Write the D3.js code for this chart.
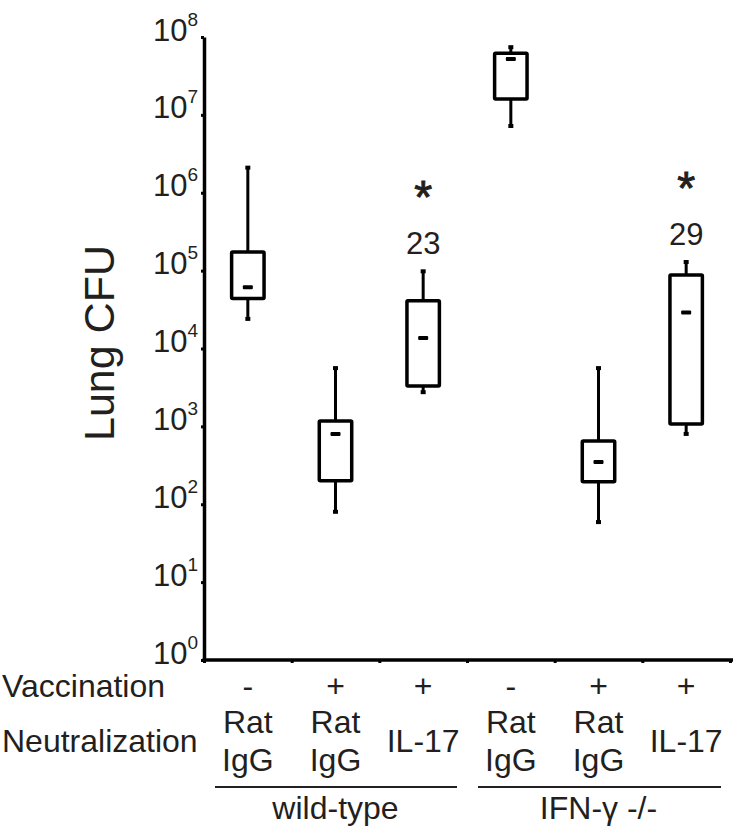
<!DOCTYPE html>
<html lang="en">
  <head>
    <meta charset="UTF-8" />
    <script src="https://d3js.org/d3.v7.min.js"></script>
    <title>Lung CFU box plot</title>
    <style>
      body { margin: 0; background: #fff; }
      text { font-family: "Liberation Sans", Arial, Helvetica, sans-serif; fill: #231f20; }
    </style>
  </head>
  <body>
    <div id="chart"></div>
    <script>
      // data
      const strains = ["wild-type", "IFN-\u03b3 -/-"];
      const vaccination = ["-", "+", "+", "-", "+", "+"];
      const neutralization = [["Rat", "IgG"], ["Rat", "IgG"], ["IL-17"], ["Rat", "IgG"], ["Rat", "IgG"], ["IL-17"]];
      const whiskerLow = [2.4e4, 80, 2750, 7.2e6, 59, 800];
      const q1 = [4.4e4, 200, 3300, 1.6e7, 195, 1070];
      const median = [6.1e4, 800, 1.36e4, 5.2e7, 350, 2.9e4];
      const q3 = [1.73e5, 1170, 4.1e4, 6.2e7, 650, 8.8e4];
      const whiskerHigh = [2.1e6, 5600, 9.8e4, 7.4e7, 5600, 1.29e5];
      const stars = ["", "", "*", "", "", "*"];
      const counts = ["", "", "23", "", "", "29"];
      const yTicks = [1, 10, 100, 1e3, 1e4, 1e5, 1e6, 1e7, 1e8];

      const W = 734, H = 829;
      const x0 = 204, x1 = 730, yTop = 37, yBot = 660;

      const svg = d3.select("#chart").append("svg")
        .attr("width", W).attr("height", H);

      const x = d3.scaleLinear().domain([0, 6]).range([x0, x1]);
      const y = d3.scaleLog().domain([1, 1e8]).range([yBot, yTop]);
      const step = x(1) - x(0);
      const boxW = step * 0.37;
      const cx = (i) => x(i + 0.5);

      // y axis
      const yAxis = svg.append("g")
        .attr("transform", "translate(" + x0 + ",0)")
        .call(d3.axisLeft(y).tickValues(yTicks).tickSize(3).tickSizeOuter(0).tickFormat(""));
      yAxis.select(".domain").attr("stroke-width", 3.5).attr("stroke", "#000");
      yAxis.selectAll(".tick line").attr("stroke-width", 3).attr("stroke", "#000");
      yAxis.selectAll(".tick").each(function (d) {
        const t = d3.select(this).append("text")
          .attr("x", -6).attr("y", 3)
          .attr("text-anchor", "end")
          .style("font-size", "31px");
        t.append("tspan").text("10");
        t.append("tspan").attr("dy", -15).style("font-size", "19px").text(Math.round(Math.log10(d)));
      });

      // x axis
      const xAxis = svg.append("g")
        .attr("transform", "translate(0," + yBot + ")")
        .call(d3.axisBottom(x).tickValues(d3.range(0, 7)).tickSize(3).tickSizeOuter(0).tickFormat(""));
      xAxis.select(".domain").attr("stroke-width", 3.5).attr("stroke", "#000")
        .attr("d", "M" + (x0 - 1.5) + ",0H733");
      xAxis.selectAll(".tick line").attr("stroke-width", 3).attr("stroke", "#000");

      svg.append("text")
        .attr("transform", "translate(114," + 343 + ") rotate(-90)")
        .attr("text-anchor", "middle")
        .style("font-size", "43px")
        .text("Lung CFU");

      // boxes
      const idx = d3.range(6);
      const g = svg.append("g").attr("stroke", "#000").attr("fill", "none");
      g.selectAll(".whisker").data(idx).join("line")
        .attr("x1", cx).attr("x2", cx)
        .attr("y1", (i) => y(whiskerLow[i])).attr("y2", (i) => y(whiskerHigh[i]))
        .attr("stroke-width", 3);
      [whiskerLow, whiskerHigh].forEach((arr) => {
        g.selectAll(null).data(idx).join("rect")
          .attr("x", (i) => cx(i) - 2.5).attr("y", (i) => y(arr[i]) - 2)
          .attr("width", 5).attr("height", 4)
          .attr("fill", "#000").attr("stroke", "none");
      });
      g.selectAll(".box").data(idx).join("rect")
        .attr("x", (i) => cx(i) - boxW / 2)
        .attr("y", (i) => y(q3[i]))
        .attr("width", boxW)
        .attr("height", (i) => y(q1[i]) - y(q3[i]))
        .attr("fill", "#fff")
        .attr("stroke-width", 3.5)
        .attr("rx", 1);
      g.selectAll(".med").data(idx).join("rect")
        .attr("x", (i) => cx(i) - 5).attr("y", (i) => y(median[i]) - 2)
        .attr("width", 10).attr("height", 4).attr("rx", 1)
        .attr("fill", "#000").attr("stroke", "none");

      // annotations
      svg.selectAll(".count").data(idx.filter((i) => counts[i])).join("text")
        .attr("x", cx).attr("y", (i) => y(whiskerHigh[i]) - 17)
        .attr("text-anchor", "middle").style("font-size", "31px")
        .text((i) => counts[i]);
      svg.selectAll(".star").data(idx.filter((i) => stars[i])).join("text")
        .attr("x", cx).attr("y", (i) => y(whiskerHigh[i]) - 17 - 66 + 25)
        .attr("text-anchor", "middle").style("font-size", "46px")
        .attr("stroke", "#231f20").attr("stroke-width", 1)
        .text((i) => stars[i]);

      // category rows
      const fs = "32px";
      svg.append("text").attr("x", 2).attr("y", 697).style("font-size", fs).text("Vaccination");
      svg.append("text").attr("x", 2).attr("y", 752).style("font-size", fs).text("Neutralization");
      svg.selectAll(".vac").data(idx).join("text")
        .attr("x", cx).attr("y", 697).attr("text-anchor", "middle").style("font-size", fs)
        .text((i) => vaccination[i]);
      idx.forEach((i) => {
        const lines = neutralization[i];
        const ys = lines.length === 2 ? [733, 771] : [752];
        lines.forEach((s, k) => {
          svg.append("text").attr("x", cx(i)).attr("y", ys[k])
            .attr("text-anchor", "middle").style("font-size", fs).text(s);
        });
      });

      strains.forEach((s, k) => {
        const a = x(k * 3) + 11, b = x(k * 3 + 3) - (k === 0 ? 10 : 9);
        svg.append("line").attr("x1", a).attr("x2", b).attr("y1", 787).attr("y2", 787)
          .attr("stroke", "#231f20").attr("stroke-width", 2.2);
        svg.append("text").attr("x", (x(k * 3) + x(k * 3 + 3)) / 2).attr("y", 819)
          .attr("text-anchor", "middle").style("font-size", fs).text(s);
      });
    </script>
  </body>
</html>
